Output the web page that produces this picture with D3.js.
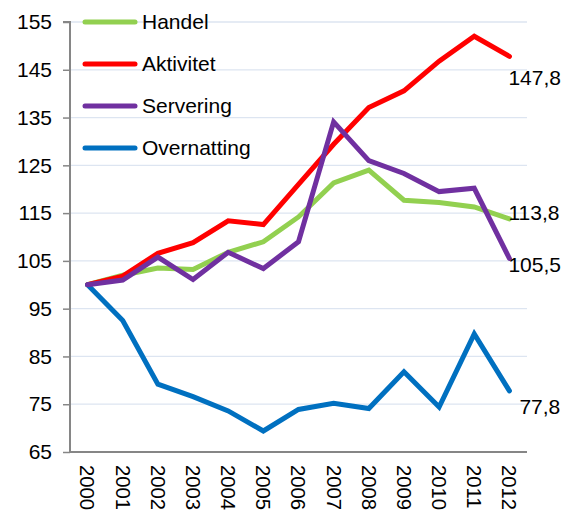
<!DOCTYPE html>
<html><head><meta charset="utf-8">
<script src="https://cdn.jsdelivr.net/npm/d3@7"></script>
<style>body{margin:0;background:#fff}svg{display:block;font-family:"Liberation Sans",Arial,sans-serif}</style>
</head><body><svg id="c" width="568" height="512"></svg>
<script>
const years = ["2000","2001","2002","2003","2004","2005","2006","2007","2008","2009","2010","2011","2012"];
const seriesNames = ["Handel","Aktivitet","Servering","Overnatting"];
const handel = [100,102.0,103.5,103.2,106.8,109.0,114.2,121.3,124.0,117.7,117.2,116.3,113.8];
const aktivitet = [100,101.8,106.6,108.8,113.4,112.6,121.0,129.4,137.1,140.6,146.8,152.0,147.8];
const servering = [100,101.0,105.8,101.1,106.8,103.4,109.0,134.1,126.0,123.3,119.5,120.2,105.5];
const overnatting = [100,92.5,79.2,76.6,73.6,69.4,73.9,75.2,74.1,81.8,74.4,89.7,77.8];
const endLabels = ["113,8","147,8","105,5","77,8"];
const yTicks = [65,75,85,95,105,115,125,135,145,155];

const colors = ["#92d050","#ff0000","#7030a0","#0070c0"];
const labelOffsets = [[-1,-6],[-1,21],[-1,6.5],[10,16]];
const values = [handel,aktivitet,servering,overnatting];
const FS = 21;

const svg = d3.select("#c");
const m = {l:70,r:527,t:22,b:452};
const x = d3.scaleBand().domain(years).range([m.l,m.r]);
const y = d3.scaleLinear().domain([65,155]).range([m.b,m.t]);

// gridlines
svg.append("g").selectAll("line").data(yTicks.filter(d=>d>65)).join("line")
  .attr("x1",m.l).attr("x2",m.r).attr("y1",d=>y(d)).attr("y2",d=>y(d))
  .attr("stroke","#dde5f1").attr("stroke-width",1.3);

// y axis
const ya = svg.append("g").attr("transform",`translate(${m.l},0)`)
  .call(d3.axisLeft(y).tickValues(yTicks).tickSize(7).tickPadding(11));
ya.select(".domain").attr("stroke","#868686").attr("stroke-width",2).attr("d",`M-7,${m.t}H0V${m.b}`);
ya.selectAll(".tick line").attr("stroke","#868686").attr("stroke-width",1.5);
ya.selectAll(".tick text").attr("font-size",FS).attr("fill","#000").attr("font-family","Liberation Sans, Arial, sans-serif");

// x axis
const xa = svg.append("g").attr("transform",`translate(0,${m.b})`)
  .call(d3.axisBottom(x).tickSize(0));
xa.select(".domain").attr("stroke","#868686").attr("stroke-width",2).attr("d",`M${m.l},0H${m.r}`);
xa.selectAll(".tick text").attr("font-size",20.3).attr("fill","#000")
  .attr("font-family","Liberation Sans, Arial, sans-serif")
  .attr("transform","rotate(90)").attr("text-anchor","start")
  .attr("x",13).attr("y",0).attr("dy","0.35em");

// lines
const line = d3.line().x((d,i)=>x(years[i])+x.bandwidth()/2).y(d=>y(d));
const order = [0,1,3,2];
order.forEach(k=>{
  svg.append("path").datum(values[k]).attr("d",line)
    .attr("fill","none").attr("stroke",colors[k]).attr("stroke-width",5)
    .attr("stroke-linejoin","miter").attr("stroke-linecap","round");
});

// end labels
values.forEach((v,k)=>{
  const last = v.length-1;
  svg.append("text").attr("x",x(years[last])+x.bandwidth()/2+labelOffsets[k][0])
    .attr("y",y(v[last])+labelOffsets[k][1]).attr("dy","0.35em")
    .attr("font-size",FS).attr("fill","#000").text(endLabels[k]);
});

// legend
const lg = svg.append("g");
seriesNames.forEach((n,k)=>{
  const yy = 22 + k*42;
  lg.append("line").attr("x1",85).attr("x2",135).attr("y1",yy).attr("y2",yy)
    .attr("stroke",colors[k]).attr("stroke-width",5).attr("stroke-linecap","round");
  lg.append("text").attr("x",142).attr("y",yy).attr("dy","0.35em").attr("font-size",FS).text(n);
});
</script></body></html>
